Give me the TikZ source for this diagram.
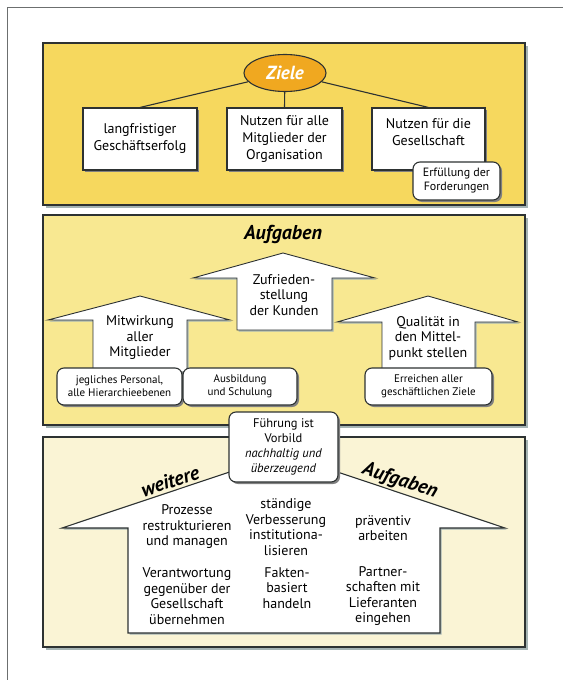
\documentclass[tikz,border=0pt]{standalone}
\usepackage{fontspec}
\setmainfont{PT Sans}
\usetikzlibrary{shapes.geometric,shadows}
\definecolor{zielgelb}{RGB}{246,216,94}
\definecolor{aufgelb}{RGB}{248,232,145}
\definecolor{creme}{RGB}{250,244,213}
\definecolor{zielorange}{RGB}{240,168,32}
\definecolor{schatten}{RGB}{165,180,180}
\definecolor{rand}{RGB}{45,50,50}

\begin{document}
\begin{tikzpicture}[x=1pt, y=-1pt,
    panel/.style={draw=rand, line width=1.2pt, drop shadow={shadow xshift=3pt, shadow yshift=-3pt, fill=schatten, opacity=1}},
    kasten/.style={draw=rand, fill=white, line width=1.1pt, align=center, inner sep=2pt,
      font=\fontsize{14}{17}\selectfont,
      drop shadow={shadow xshift=2pt, shadow yshift=-2pt, fill=gray, opacity=1}},
    rkasten/.style={kasten, rounded corners=7pt, font=\fontsize{11}{13}\selectfont},
    pfeil/.style={draw=rand, fill=white, line width=0.9pt, line join=miter,
      drop shadow={shadow xshift=1.5pt, shadow yshift=-1.5pt, fill=schatten, opacity=1}},
    txt/.style={align=center, inner sep=0pt, font=\fontsize{14}{15.5}\selectfont},
    titel/.style={inner sep=0pt, font=\fontsize{20}{22}\selectfont\bfseries\itshape}
  ]
  \useasboundingbox [fill=white] (0,0) rectangle (563,680);
  \draw [line width=1pt, rand!70] (7,680) -- (7,7) -- (563,7);

  % Ziele
  \path [panel, fill=zielgelb] (43,43) rectangle (525,205);
  \node [kasten, minimum width=114, minimum height=62] (lang) at (140,139) {langfristiger\\Geschäftserfolg};
  \node [kasten, minimum width=115, minimum height=62] (mitgl) at (284.5,139) {Nutzen für alle\\Mitglieder der\\Organisation};
  \node [kasten, minimum width=113, minimum height=62, text depth=14pt] (ges) at (428.5,139) {Nutzen für die\\Gesellschaft};
  \node [rkasten, minimum width=87, minimum height=38, font=\fontsize{12}{14}\selectfont] (ford) at (456.5,181) {Erfüllung der\\Forderungen};
  \node [ellipse, draw=rand, fill=zielorange, line width=1.1pt, minimum width=82, minimum height=37, inner sep=0pt,
    text=white, font=\fontsize{19}{21}\selectfont\bfseries\itshape] (ziele) at (285,73) {Ziele};

  \draw [line width=1.1pt, rand] (ziele) -- (lang.north);
  \draw [line width=1.1pt, rand] (ziele) -- (mitgl.north);
  \draw [line width=1.1pt, rand] (ziele) -- (ges.north);

  % Aufgaben
  \path [panel, fill=aufgelb] (43,215) rectangle (525,425);
  \node [titel] (aufg) at (283,234) {Aufgaben};
  \path [pfeil] (237,330) -- (237,278) -- (193,278) -- (283,253) -- (375,278) -- (332,278) -- (332,330) -- cycle;
  \path [pfeil] (93,372) -- (93,320) -- (48,320) -- (140,296) -- (230,320) -- (187,320) -- (187,372) -- cycle;
  \path [pfeil] (382,372) -- (382,322) -- (337,322) -- (428,296) -- (518,322) -- (475,322) -- (475,372) -- cycle;
  \node [txt] (kunden) at (284,295) {Zufrieden-\\stellung\\der Kunden};
  \node [txt] (mitw) at (140,338) {Mitwirkung\\aller\\Mitglieder};
  \node [txt] (qual) at (428,338) {Qualität in\\den Mittel-\\punkt stellen};
  \node [rkasten, minimum width=125, minimum height=37] (personal) at (119.5,386.5) {jegliches Personal,\\alle Hierarchieebenen};
  \node [rkasten, minimum width=114, minimum height=37] (schulung) at (240,386.5) {Ausbildung\\und Schulung};
  \node [rkasten, minimum width=127, minimum height=37] (erreichen) at (428.5,386.5) {Erreichen aller\\geschäftlichen Ziele};

  % weitere Aufgaben
  \path [panel, fill=creme] (43,437) rectangle (525,647);
  \path [pfeil, line width=1.1pt] (128,633) -- (128,528) -- (62,528) -- (283.5,454) -- (505,528) -- (440,528) -- (440,633) -- cycle;
  \node [titel, rotate=18.4] (weitere) at (170,481) {weitere};
  \node [titel, rotate=-18.4] (aufg2) at (400,481) {Aufgaben};
  \node [txt] (prozesse) at (187,527) {Prozesse\\restrukturieren\\und managen};
  \node [txt] (verbess) at (286,527) {ständige\\Verbesserung\\institutiona-\\lisieren};
  \node [txt] (praev) at (383,528) {präventiv\\arbeiten};
  \node [txt] (verantw) at (187,596) {Verantwortung\\gegenüber der\\Gesellschaft\\übernehmen};
  \node [txt] (fakten) at (287,588) {Fakten-\\basiert\\handeln};
  \node [txt] (partner) at (383,596) {Partner-\\schaften mit\\Lieferanten\\eingehen};
  \node [rkasten, minimum width=109, minimum height=70, font=\fontsize{12.5}{15}\selectfont] (fuehrung) at (283.5,447)
    {Führung ist\\Vorbild\\\textit{nachhaltig und}\\\textit{überzeugend}};
\end{tikzpicture}
\end{document}
